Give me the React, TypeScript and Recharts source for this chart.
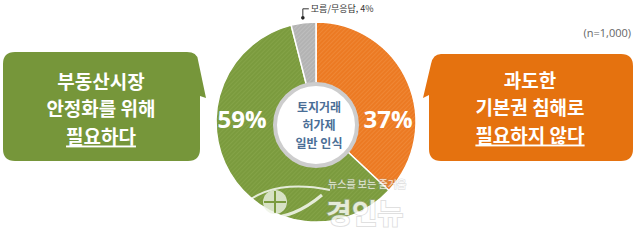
import React from "react";
import { PieChart, Pie, Cell } from "recharts";

// survey: 토지거래허가제 일반 인식 (n=1,000)
const categories = ["필요하지 않다", "필요하다", "모름/무응답"];
const values = [37, 59, 4];
const sliceColors = ["#EC7A23", "#7B9B3E", "#B3B3B3"];
const stripeColors = ["#F39446", "#8DAC50", "#C9C9C9"];
const leftLines = ["부동산시장", "안정화를 위해", "필요하다"];
const rightLines = ["과도한", "기본권 침해로", "필요하지 않다"];
const centerLines = ["토지거래", "허가제", "일반 인식"];
const sampleNote = "(n=1,000)";

const data = categories.map((name, i) => ({ name, value: values[i] }));

const W = 643;
const H = 240;
const CX = 316;
const CY = 122;
const FONT = "'Noto Sans CJK KR', 'Noto Sans', sans-serif";
const RAD = Math.PI / 180;

const renderLabel = (props: any) => {
  const { cx, cy, midAngle, outerRadius, index, value, name } = props;
  if (index === 2) {
    const r = outerRadius + 5;
    const x = cx + r * Math.cos(-midAngle * RAD);
    const y = cy + r * Math.sin(-midAngle * RAD);
    return (
      <g>
        <circle cx={x} cy={y} r={1.8} fill="#222" />
        <polyline points={`${x},${y} ${x},${y - 9} ${x + 6},${y - 9}`} fill="none" stroke="#333" strokeWidth={1} />
        <text x={x + 8} y={y - 6} fontSize={9} fill="#333" fontFamily={FONT}>
          {`${name}, ${value}%`}
        </text>
      </g>
    );
  }
  const dx = index === 0 ? 72 : -74;
  return (
    <text
      x={cx + dx}
      y={cy - 4}
      textAnchor="middle"
      dominantBaseline="central"
      fill="#fff"
      fontSize={24}
      fontWeight={700}
      fontFamily="'Open Sans', 'Noto Sans', sans-serif"
    >
      {`${value}%`}
    </text>
  );
};

const leftBox = "M15,52 L187,52 Q197,52 198,60 L206,98 L200,96 L200,149 Q200,161 188,161 L15,161 Q3,161 3,149 L3,64 Q3,52 15,52 Z";
const rightBox = "M441,54 L621,54 Q633,54 633,66 L633,149 Q633,161 621,161 L441,161 Q429,161 429,149 L429,95 L423,98 L431,64 Q433,54 441,54 Z";

const BoxText = ({ lines, x, ys }: { lines: string[]; x: number; ys: number[] }) => (
  <g>
    {lines.map((t, i) => (
      <text
        key={t}
        x={x}
        y={ys[i]}
        textAnchor="middle"
        dominantBaseline="central"
        fill="#fff"
        fontSize={19}
        fontWeight={700}
        fontFamily={FONT}
        textDecoration={i === lines.length - 1 ? "underline" : undefined}
      >
        {t}
      </text>
    ))}
  </g>
);

export default function App() {
  return (
    <div style={{ position: "absolute", left: 0, top: 0, width: W, height: H, background: "#fff", overflow: "hidden" }}>
      <div style={{ position: "absolute", left: 0, top: 0 }}>
        <PieChart width={W} height={H} margin={{ top: 0, right: 0, bottom: 0, left: 0 }}>
          <defs>
            {sliceColors.map((c, i) => (
              <pattern key={i} id={`hatch${i}`} width={3} height={3} patternUnits="userSpaceOnUse" patternTransform="rotate(45)">
                <rect width={3} height={3} fill={c} />
                <line x1={0} y1={0} x2={0} y2={3} stroke={stripeColors[i]} strokeWidth={1} />
              </pattern>
            ))}
          </defs>
          <Pie
            data={data}
            dataKey="value"
            nameKey="name"
            cx={CX}
            cy={CY}
            innerRadius={38}
            outerRadius={100}
            startAngle={90}
            endAngle={-270}
            stroke="#fff"
            strokeWidth={1.5}
            label={renderLabel}
            labelLine={false}
            isAnimationActive={false}
          >
            {data.map((d, i) => (
              <Cell key={d.name} fill={`url(#hatch${i})`} />
            ))}
          </Pie>
        </PieChart>
      </div>
      <svg width={W} height={H} style={{ position: "absolute", left: 0, top: 0, pointerEvents: "none" }}>
        <circle cx={CX} cy={CY + 3} r={41} fill="#fff" stroke="#CDCDCD" strokeWidth={4} />
        {centerLines.map((t, i) => (
          <text
            key={t}
            x={CX + 3}
            y={CY - 16 + i * 18}
            textAnchor="middle"
            dominantBaseline="central"
            fill="#4A6E96"
            fontSize={12}
            fontWeight={700}
            fontFamily={FONT}
          >
            {t}
          </text>
        ))}
        <path d={leftBox} fill="#76963A" />
        <path d={rightBox} fill="#E5720F" />
        <BoxText lines={leftLines} x={101} ys={[80, 107.5, 135]} />
        <BoxText lines={rightLines} x={530} ys={[79, 106.5, 134]} />
        <text x={631} y={32} textAnchor="end" dominantBaseline="central" fill="#666" fontSize={11} fontFamily="'Open Sans', sans-serif">
          {sampleNote}
        </text>
        {/* watermark */}
        <g opacity={0.8}>
          <path d="M240,208 Q270,178 330,190" fill="none" stroke="#fff" strokeWidth={2} />
          <path d="M238,212 Q280,230 322,195" fill="none" stroke="#fff" strokeWidth={3} />
          <circle cx={275} cy={202} r={12} fill="#EEF3E6" />
          <line x1={275} y1={191} x2={275} y2={213} stroke="#7B9B3E" strokeWidth={2} />
          <line x1={264} y1={202} x2={286} y2={202} stroke="#7B9B3E" strokeWidth={2} />
          <text x={328} y={188} fill="#fff" fontSize={10} fontFamily={FONT} stroke="#999" strokeOpacity={0.35} strokeWidth={1.5} paintOrder="stroke">
            뉴스를 보는 즐거움
          </text>
          <text
            x={326}
            y={212}
            dominantBaseline="central"
            fill="#fff"
            fontSize={28}
            fontWeight={700}
            fontFamily={FONT}
            stroke="#AAA"
            strokeOpacity={0.45}
            strokeWidth={2}
            paintOrder="stroke"
          >
            경인뉴
          </text>
        </g>
      </svg>
    </div>
  );
}
